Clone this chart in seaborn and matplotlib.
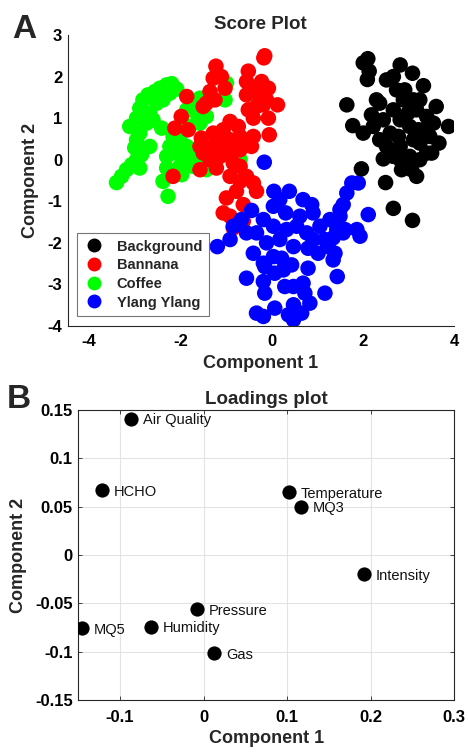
import matplotlib
matplotlib.use("Agg")
import matplotlib.pyplot as plt
import seaborn as sns
import pandas as pd

# ---------------- Score plot data ----------------
bg_x = [1.65, 1.78, 1.97, 2.50, 2.67, 3.09, 3.88, 2.01, 2.11, 2.10, 2.14, 2.82, 3.09, 3.33, 3.61,
        3.67, 3.51, 3.18, 2.96, 2.45, 2.01, 2.19, 2.30, 2.52, 2.67, 2.92, 3.18, 3.40, 3.33, 3.11,
        2.82, 2.60, 2.45, 2.67, 2.89, 3.11, 3.25, 2.82, 3.03, 3.25, 3.40, 3.03, 2.82, 2.67, 2.37,
        2.23, 2.37, 2.74, 2.99, 2.78, 3.22, 3.47, 3.55, 3.25, 3.07, 2.85, 2.52]
bg_y = [1.32, 0.82, -0.22, -0.55, -1.17, -1.46, 0.80, 2.33, 2.43, 1.93, 2.13, 2.28, 2.08, 1.78, 1.28,
        0.40, 0.16, -0.40, -0.16, 0.02, 0.64, 1.08, 1.44, 1.92, 2.00, 1.68, 1.20, 1.04, 0.72, 0.48,
        0.32, 0.64, 0.96, 1.20, 1.44, 1.44, 1.44, 0.96, 0.80, 0.40, 0.16, 0.08, 0.00, 0.08, 0.48,
        0.80, 1.36, 1.68, 1.12, 0.56, 0.72, 0.56, 0.88, 0.00, -0.24, -0.24, 0.32]

ban_x = [-0.15, -0.17, -1.22, -1.28, -1.10, -1.02, -1.35, -1.43, -1.24, -1.86, -1.50,
         -0.51, -0.55, -0.22, -0.07, -0.40, -0.55, -0.26, -0.11, 0.13, -0.33, -0.51, -0.40, -0.07,
         -0.05, -0.40, -0.18,
         -0.91, -0.73, -1.06, -1.28, -1.54, -1.57, -1.50, -1.28, -1.13, -0.91, -0.69, -0.55, -0.44,
         -0.69, -0.91, -1.13, -1.35, -0.84, -0.69, -1.57, -1.21, -0.91, -0.69, -0.55, -0.40, -0.33,
         -0.77, -0.99, -0.62, -1.06, -0.91, -0.84, -0.62, -2.12, -2.16, -1.98, -1.83]
ban_y = [2.50, 2.45, 2.25, 1.96, 2.00, 1.72, 1.64, 1.36, 1.44, 1.52, 1.28,
         2.13, 1.88, 1.88, 1.72, 1.72, 1.56, 1.52, 1.44, 1.32, 1.28, 1.20, 1.00, 1.00,
         0.60, 0.56, 1.32,
         0.92, 0.80, 0.72, 0.64, 0.52, 0.32, 0.16, 0.32, 0.40, 0.48, 0.56, 0.40, 0.32,
         0.24, 0.16, 0.08, 0.00, -0.08, -0.16, -0.24, -0.20, -0.40, -0.52, -0.40, -0.56, -0.76,
         -0.76, -0.92, -1.08, -1.28, -1.36, -1.64, -1.48, 0.76, -0.40, 1.04, 0.72]

cof_x = [-3.40, -3.29, -3.18, -3.07, -2.89, -2.96, -2.85, -3.00, -2.96, -3.11, -2.96, -2.89, -2.82,
         -2.71, -2.56, -2.45, -2.30, -2.19, -2.08, -2.23, -2.38, -2.52, -2.67, -2.74, -2.41, -2.67,
         -2.89, -2.60,
         -2.30, -2.38, -2.27, -1.97, -2.01, -2.30, -2.23, -2.16, -2.01, -1.86, -1.72, -1.86, -1.72,
         -1.43, -1.57, -1.79, -1.72, -1.57, -1.86, -1.97, -1.43, -1.57, -0.99, -1.02, -1.65, -0.84,
         -0.69, -2.08]
cof_y = [-0.55, -0.40, -0.24, -0.12, -0.20, 0.00, 0.12, 0.29, 0.48, 0.80, 1.00, 1.24, 1.44,
         1.56, 1.64, 1.72, 1.80, 1.83, 1.70, 1.60, 1.44, 1.36, 1.12, 0.88, 0.76, 0.32,
         0.64, 0.96,
         -0.20, -0.52, -0.88, -0.36, -0.16, 0.08, 0.32, 0.56, 0.48, 0.32, 0.16, 0.00, -0.16,
         -0.24, 0.00, 0.80, 1.28, 1.48, 1.20, 1.04, 1.04, 0.88, 1.84, 1.44, 1.12, 0.08,
         0.00, 0.16]

yl_x = [-0.16, 0.05, 0.39, 0.18, 0.69, 0.88, 0.91, 0.62, 0.31, 0.04, -0.44, -0.66, -0.84, -0.91,
        -1.19, -0.55, -0.33, -0.18, 0.04, 0.33, 0.55, 0.77, 0.91, 0.80, 0.48, 0.18, -0.11, -0.40,
        -0.18, 0.04, 0.22, 0.44, 0.26, 0.07, -0.15, -0.55, -0.18, -0.15, -0.33, -0.18, 0.07, 0.29,
        0.48, 0.69, 0.80, 0.73, 0.48, 0.84, 0.66, 0.48, 0.37, 1.17, 1.44, 1.35, 1.24, 1.06, 1.28,
        1.50, 1.43, 1.61, 1.87, 1.94, 2.12, 1.57, 1.50, 1.65, 1.76, 1.90, 1.57, 1.35, 1.17, 1.02,
        1.39]
yl_y = [-0.06, -0.76, -0.76, -0.96, -0.96, -1.08, -1.28, -1.36, -1.28, -1.12, -1.22, -1.44, -1.60,
        -1.92, -2.09, -1.76, -1.76, -1.44, -1.60, -1.68, -1.60, -1.76, -1.92, -2.13, -2.09, -1.92,
        -2.00, -2.25, -2.49, -2.33, -2.37, -2.53, -2.65, -2.73, -2.57, -2.85, -2.93, -3.21, -3.69,
        -3.77, -3.57, -3.05, -3.05, -2.97, -2.61, -3.21, -3.49, -3.45, -3.69, -3.85, -3.73, -3.21,
        -2.81, -2.41, -2.09, -1.60, -1.44, -1.36, -1.68, -1.68, -1.68, -1.84, -1.32, -1.08, -1.20,
        -0.80, -0.56, -0.56, -1.76, -1.88, -1.92, -2.25, -2.25]

groups = ["Background", "Bannana", "Coffee", "Ylang Ylang"]
colors = ["#000000", "#ff0000", "#00ff00", "#0000ff"]

# ---------------- Loadings data ----------------
load_names = ["Air Quality", "HCHO", "Temperature", "MQ3", "Intensity",
              "Pressure", "MQ5", "Humidity", "Gas"]
load_x = [-0.087, -0.122, 0.1025, 0.1165, 0.192, -0.008, -0.1455, -0.0625, 0.013]
load_y = [0.141, 0.067, 0.065, 0.050, -0.020, -0.056, -0.076, -0.074, -0.1015]

# ---------------- Build ----------------
sns.set_theme(style="white")
plt.rcParams["font.family"] = ["Liberation Sans", "DejaVu Sans"]
plt.rcParams["axes.unicode_minus"] = False

score_df = pd.concat([
    pd.DataFrame({"x": cof_x, "y": cof_y, "g": "Coffee"}),
    pd.DataFrame({"x": ban_x, "y": ban_y, "g": "Bannana"}),
    pd.DataFrame({"x": yl_x, "y": yl_y, "g": "Ylang Ylang"}),
    pd.DataFrame({"x": bg_x, "y": bg_y, "g": "Background"}),
], ignore_index=True)
load_df = pd.DataFrame({"x": load_x, "y": load_y, "name": load_names})

W, H = 468, 754
fig = plt.figure(figsize=(W / 100, H / 100), dpi=100)
ax1 = fig.add_axes([67.7 / W, 1 - 326 / H, (454 - 67.7) / W, (326 - 35) / H])
ax2 = fig.add_axes([78.3 / W, 1 - 700 / H, (454.3 - 78.3) / W, (700 - 410) / H])

spine_c = "#262626"

# Score plot
sns.scatterplot(data=score_df, x="x", y="y", hue="g", hue_order=groups,
                palette=dict(zip(groups, colors)), s=125, linewidth=0, alpha=1,
                ax=ax1, legend=True)
ax1.set_xlim(-4.47, 4.0)
ax1.set_ylim(-4, 3)
ax1.set_xticks([-4, -2, 0, 2, 4])
ax1.set_yticks([3, 2, 1, 0, -1, -2, -3, -4])
ax1.set_xticklabels(["-4", "-2", "0", "2", "4"])
ax1.set_yticklabels(["3", "2", "1", "0", "-1", "-2", "-3", "-4"])
for s in ["top", "right"]:
    ax1.spines[s].set_visible(False)
for s in ["left", "bottom"]:
    ax1.spines[s].set_color(spine_c)
    ax1.spines[s].set_linewidth(0.8)
ax1.tick_params(direction="in", length=3, width=0.6, colors=spine_c,
                labelcolor="black", labelsize=12)
ax1.tick_params(axis="x", pad=6)
ax1.tick_params(axis="y", pad=4)
for lab in ax1.get_xticklabels() + ax1.get_yticklabels():
    lab.set_fontweight("bold")
ax1.set_xlabel("Component 1", fontsize=13, fontweight="bold", labelpad=4)
ax1.set_ylabel("Component 2", fontsize=13, fontweight="bold", labelpad=6)
ax1.set_title("Score Plot", fontsize=13.5, fontweight="bold", pad=4)
leg = ax1.legend(loc="lower left", bbox_to_anchor=(0.023, 0.034), borderaxespad=0,
                 frameon=True, fancybox=False, edgecolor="#555555",
                 prop={"weight": "bold", "size": 10.5},
                 labelspacing=0.32, handletextpad=0.8, borderpad=0.45, handlelength=1.5)
leg.get_frame().set_linewidth(0.8)
for h in leg.legend_handles:
    try:
        h.set_markersize(10)
    except AttributeError:
        h.set_sizes([100])

# Loadings plot
sns.scatterplot(data=load_df, x="x", y="y", color="black", s=105, linewidth=0, ax=ax2,
                zorder=3)
for nm, xv, yv in zip(load_names, load_x, load_y):
    ax2.annotate(nm, (xv, yv), xytext=(8.5, -1), textcoords="offset points",
                 ha="left", va="center", fontsize=10.5, color="#111111")
ax2.set_xlim(-0.15, 0.3)
ax2.set_ylim(-0.15, 0.15)
ax2.set_xticks([-0.1, 0, 0.1, 0.2, 0.3])
ax2.set_xticklabels(["-0.1", "0", "0.1", "0.2", "0.3"])
ax2.set_yticks([0.15, 0.1, 0.05, 0, -0.05, -0.1, -0.15])
ax2.set_yticklabels(["0.15", "0.1", "0.05", "0", "-0.05", "-0.1", "-0.15"])
ax2.grid(True, color="#e3e3e3", linewidth=0.8)
ax2.set_axisbelow(True)
for s in ax2.spines.values():
    s.set_visible(True)
    s.set_color(spine_c)
    s.set_linewidth(0.8)
ax2.tick_params(direction="in", length=3, width=0.6, colors=spine_c,
                labelcolor="black", labelsize=12, top=True, right=True,
                bottom=True, left=True)
ax2.tick_params(axis="x", pad=7)
ax2.tick_params(axis="y", pad=4)
for lab in ax2.get_xticklabels() + ax2.get_yticklabels():
    lab.set_fontweight("bold")
ax2.set_xlabel("Component 1", fontsize=13, fontweight="bold", labelpad=4)
ax2.set_ylabel("Component 2", fontsize=13, fontweight="bold", labelpad=6)
ax2.set_title("Loadings plot", fontsize=13.5, fontweight="bold", pad=4)

fig.text(12 / W, 1 - 38 / H, "A", fontsize=24, fontweight="bold", ha="left", va="baseline")
fig.text(7 / W, 1 - 408 / H, "B", fontsize=24, fontweight="bold", ha="left", va="baseline")

fig.savefig("out.png", dpi=100)
